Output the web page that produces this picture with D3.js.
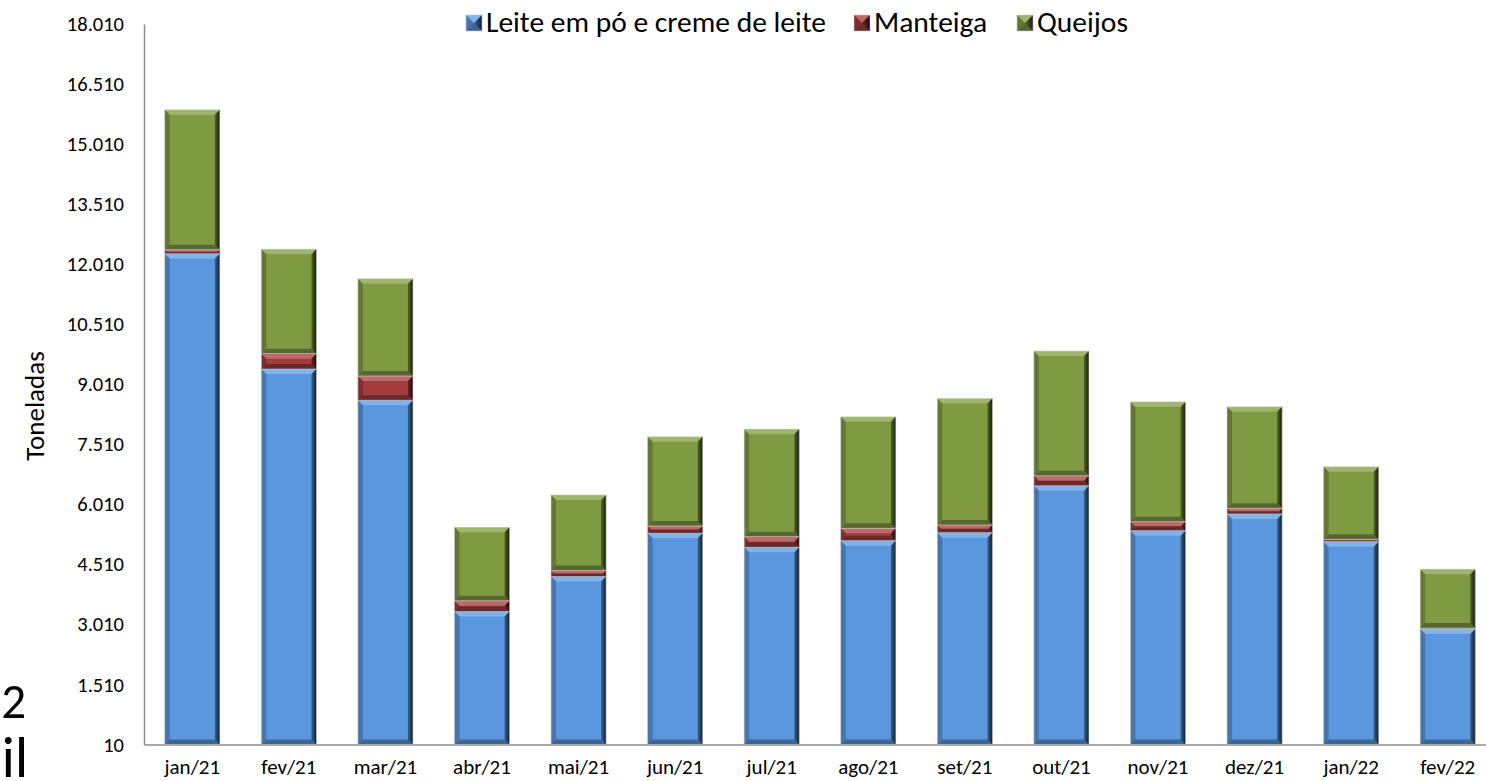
<!DOCTYPE html>
<html>
<head>
<meta charset="utf-8">
<script src="https://cdn.jsdelivr.net/npm/d3@7"></script>
<style>
  body { margin: 0; background: #fff; }
  svg { display: block; overflow: hidden; }
  text { font-family: Carlito, Calibri, Lato, sans-serif; fill: #000; }
</style>
</head>
<body>
<div id="chart"></div>
<script>
// Dados (toneladas)
const MESES = ['jan/21', 'fev/21', 'mar/21', 'abr/21', 'mai/21', 'jun/21', 'jul/21',
    'ago/21', 'set/21', 'out/21', 'nov/21', 'dez/21', 'jan/22', 'fev/22'];
const LEITE = [12270, 9391, 8611, 3333, 4206, 5288, 4938, 5103, 5303, 6474, 5353, 5769, 5078, 2894];
const MANTEIGA = [100, 384, 606, 267, 149, 182, 265, 309, 192, 250, 224, 142, 60, 25];
const QUEIJOS = [3496, 2609, 2428, 1837, 1888, 2226, 2685, 2783, 3158, 3116, 2992, 2534, 1810, 1471];
const SERIES = ['Leite em pó e creme de leite', 'Manteiga', 'Queijos'];
const TICKS = d3.range(10, 18011, 1500);

let COLORS = ['#5b97de', '#a23b3a', '#7f9b42'];

const width = 1486;
const height = 781;
const margin = { top: 24, bottom: 36.5, right: -10, left: 144 };

const ptBR = d3.formatLocale({ decimal: ',', thousands: '.', grouping: [3], currency: ['R$', ''] });
const fmt = ptBR.format(',d');

// tabela para o stack
const tabela = MESES.map((m, i) => ({
    mes: m,
    [SERIES[0]]: LEITE[i],
    [SERIES[1]]: MANTEIGA[i],
    [SERIES[2]]: QUEIJOS[i]
}));
const pilhas = d3.stack().keys(SERIES)(tabela);

const svg = d3.select('#chart')
    .append('svg')
    .attr('width', width)
    .attr('height', height);

const escalaY = d3.scaleLinear()
    .domain([10, 18010])
    .range([height - margin.bottom, margin.top])
    .clamp(true);

const escalaX = d3.scaleBand()
    .domain(MESES)
    .range([margin.left, width - margin.right])
    .paddingInner(0.43)
    .paddingOuter(0.215);

// desenha um retangulo com efeito bisel
function bisel(g, x, y, w, h, cor, b) {
    b = Math.min(b, h / 2, w / 2);
    g.append('rect')
        .attr('x', x).attr('y', y).attr('width', w).attr('height', h)
        .attr('fill', cor);
    const faces = [
        { pts: [[x, y], [x + w, y], [x + w - b, y + b], [x + b, y + b]], fill: 'rgba(255,255,255,0.25)' },
        { pts: [[x, y], [x + b, y + b], [x + b, y + h - b], [x, y + h]], fill: 'rgba(0,0,0,0.22)' },
        { pts: [[x + w, y], [x + w, y + h], [x + w - b, y + h - b], [x + w - b, y + b]], fill: 'url(#gradDir)' },
        { pts: [[x, y + h], [x + b, y + h - b], [x + w - b, y + h - b], [x + w, y + h]], fill: 'rgba(0,0,0,0.32)' }
    ];
    g.selectAll(null)
        .data(faces)
        .join('polygon')
        .attr('points', d => d.pts.map(p => p.join(',')).join(' '))
        .attr('fill', d => d.fill);
    g.append('rect')
        .attr('x', x).attr('y', y).attr('width', w).attr('height', h)
        .attr('fill', 'none')
        .attr('stroke', 'rgba(200,200,200,0.7)')
        .attr('stroke-width', 0.8);
}

const defs = svg.append('defs');
const grad = defs.append('linearGradient')
    .attr('id', 'gradDir')
    .attr('x1', '0').attr('x2', '1').attr('y1', '0').attr('y2', '0');
grad.append('stop').attr('offset', '0').attr('stop-color', '#000').attr('stop-opacity', 0.35);
grad.append('stop').attr('offset', '1').attr('stop-color', '#000').attr('stop-opacity', 0.8);

// eixos
const ejeY = d3.axisLeft(escalaY)
    .tickValues(TICKS)
    .tickFormat(fmt)
    .tickSize(0)
    .tickPadding(20);

const contenedorEjeY = svg.append('g')
    .attr('transform', `translate(${margin.left},0)`)
    .call(ejeY);
contenedorEjeY.select('.domain').attr('stroke', '#8c8c8c').attr('stroke-width', 1.5);
contenedorEjeY.selectAll('text')
    .attr('font-size', 20.5)
    .attr('font-family', 'Carlito, Calibri, Lato, sans-serif');

const ejeX = d3.axisBottom(escalaX)
    .tickSize(0)
    .tickPadding(15);

const contenedorEjeX = svg.append('g')
    .attr('transform', `translate(0,${escalaY(10)})`)
    .call(ejeX);
contenedorEjeX.select('.domain').attr('stroke', '#8c8c8c').attr('stroke-width', 1.5);
contenedorEjeX.selectAll('text')
    .attr('font-size', 21)
    .attr('font-family', 'Carlito, Calibri, Lato, sans-serif');

// barras empilhadas
const contenedorBarras = svg.append('g');
pilhas.forEach((serie, s) => {
    serie.forEach(d => {
        const y0 = escalaY(d[0]);
        const y1 = escalaY(d[1]);
        bisel(contenedorBarras.append('g'), escalaX(d.data.mes), y1,
            escalaX.bandwidth(), y0 - y1, COLORS[s], 5);
    });
});

// titulo eixo Y
svg.append('text')
    .attr('transform', 'translate(44,406) rotate(-90)')
    .attr('text-anchor', 'middle')
    .attr('font-size', 27)
    .text('Toneladas');

// legenda
const legendaX = [466, 854, 1017];
const legenda = svg.append('g');
SERIES.forEach((nome, i) => {
    const g = legenda.append('g');
    bisel(g, legendaX[i], 15, 16, 16, COLORS[i], 8);
    g.append('text')
        .attr('x', legendaX[i] + 20)
        .attr('y', 32)
        .attr('font-size', 29.5)
        .text(nome);
});

// texto cortado do slide a esquerda
svg.append('text')
    .attr('x', 26).attr('y', 718)
    .attr('text-anchor', 'end')
    .attr('font-size', 49)
    .text('2022');
svg.append('text')
    .attr('x', 28).attr('y', 777)
    .attr('text-anchor', 'end')
    .attr('font-size', 57)
    .text('Brasil');
</script>
</body>
</html>
